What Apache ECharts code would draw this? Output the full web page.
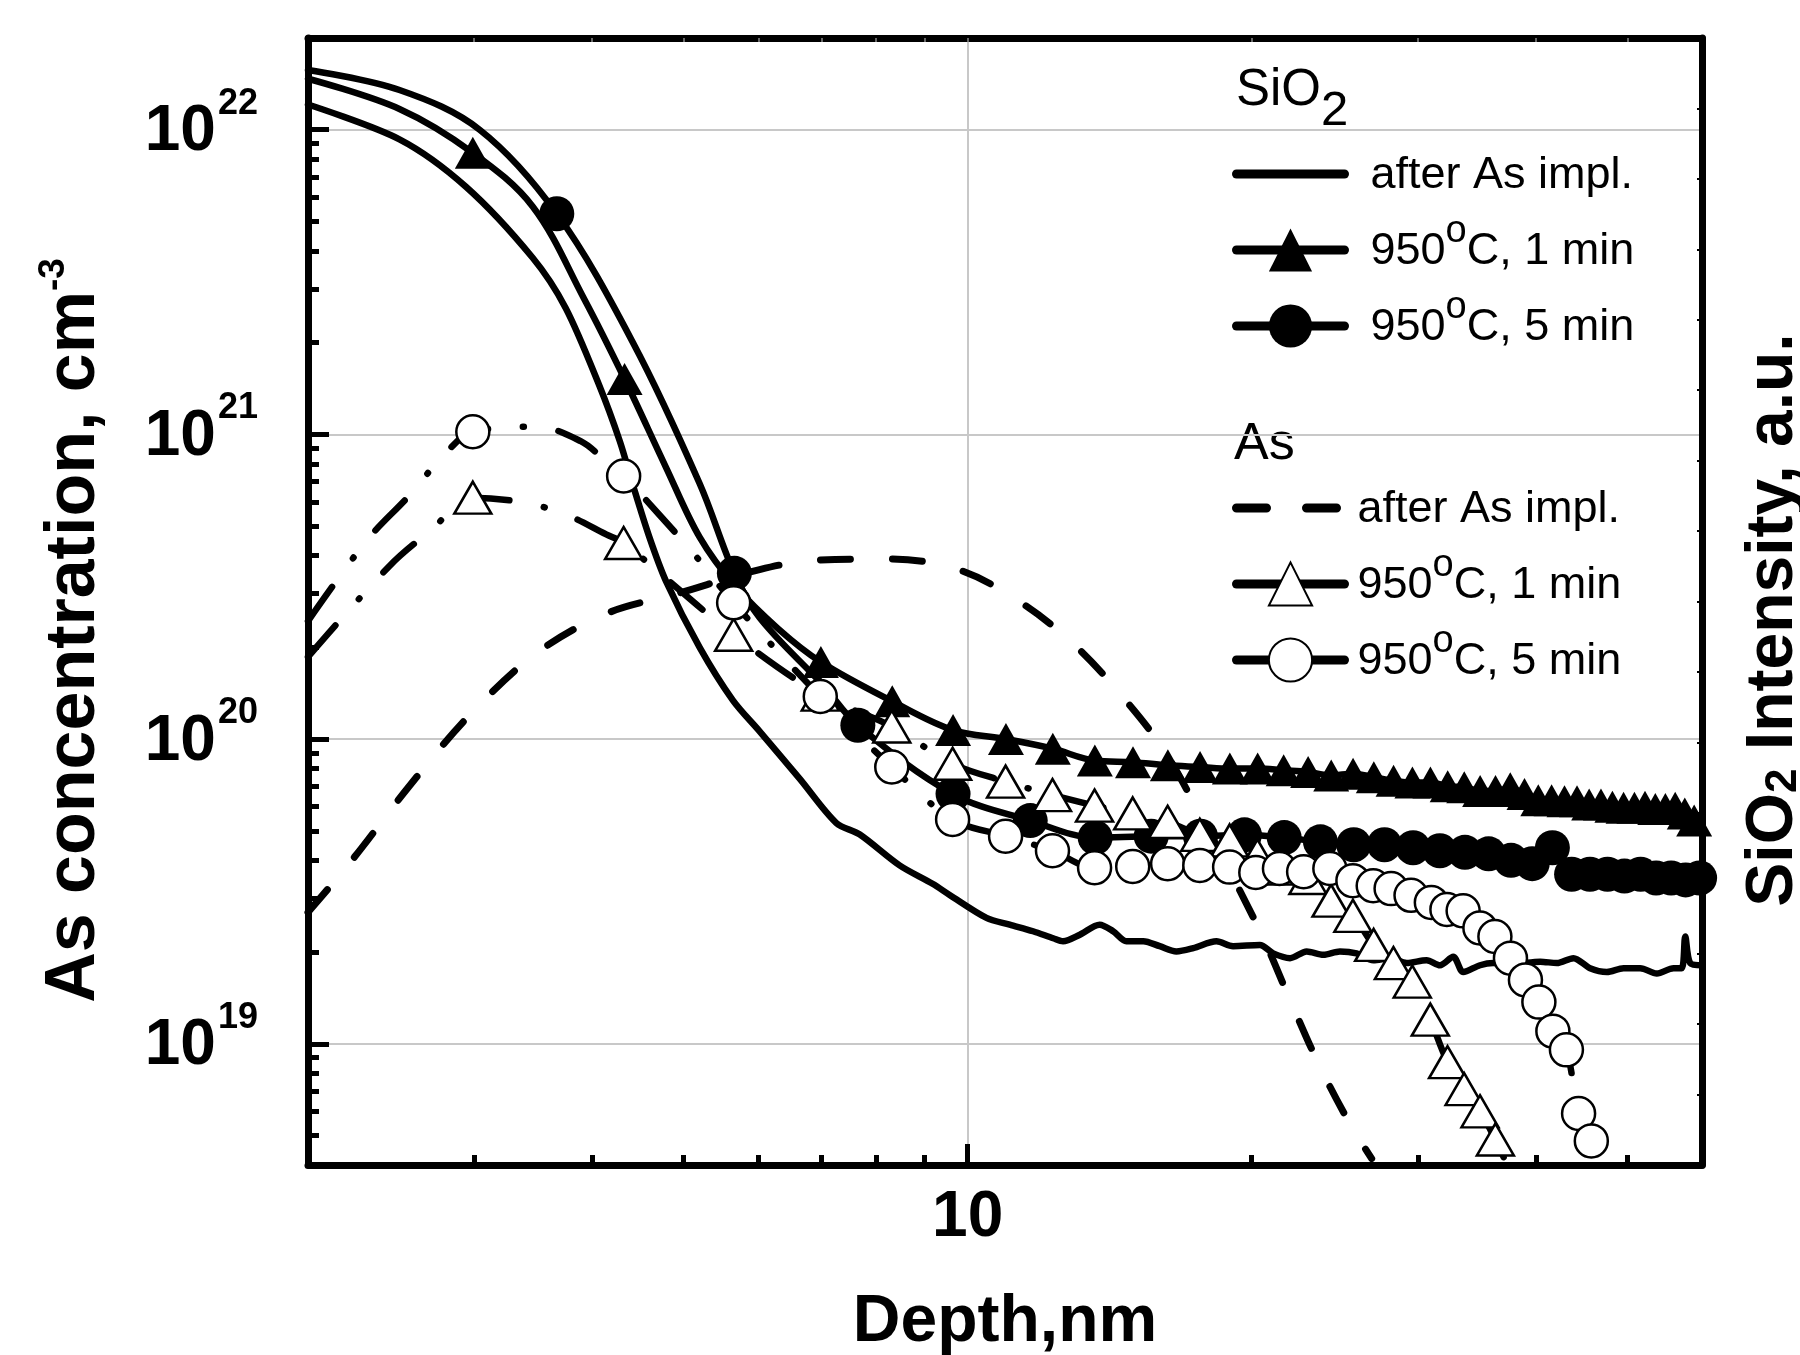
<!DOCTYPE html>
<html><head><meta charset="utf-8">
<script src="https://cdn.jsdelivr.net/npm/echarts@6/dist/echarts.min.js"></script>
<style>html,body{margin:0;padding:0;background:#fff}#c{width:1800px;height:1355px}</style>
</head><body><div id="c"></div>
<script>
// ---------- ticks ----------
const xMajorTicks = [10];
const xMinorTicks = [3, 4, 5, 6, 7, 8, 9, 20, 30, 40, 50];
const yMajorTicks = [1e19, 1e20, 1e21, 1e22];
const yMinorTicks = [5e18, 6e18, 7e18, 8e18, 9e18, 2e19, 3e19, 4e19, 5e19, 6e19, 7e19, 8e19, 9e19,
  2e20, 3e20, 4e20, 5e20, 6e20, 7e20, 8e20, 9e20, 2e21, 3e21, 4e21, 5e21, 6e21, 7e21, 8e21, 9e21];

// ---------- SiO2, after As implantation (solid line) ----------
const sio2ImplDepth = [2.0, 2.5, 2.94, 3.46, 3.75, 4.07, 4.28, 4.42, 4.6, 4.79, 5.2, 5.64, 6.02, 6.64, 7.26, 7.68, 8.47, 9.18, 9.57, 10.47,
  11.08, 11.73, 12.32, 12.62, 13.15, 13.80, 14.26, 14.73, 15.35, 15.98, 16.64, 17.34, 18.35, 19.11, 20.40, 21.08, 21.96, 22.87, 23.82, 24.80,
  25.83, 26.91, 28.03, 29.19, 30.64, 31.66, 32.70, 33.51, 34.91, 36.06, 37.26, 38.82, 40.43, 42.11, 43.85, 45.66, 47.57, 49.55, 51.6, 53.74,
  55.98, 57.1, 57.6, 58.3, 60.0];
const sio2ImplConc = [1.21e22, 9.3e21, 6.5e21, 3.8e21, 2.6e21, 1.45e21, 9.5e20, 6.8e20, 4.6e20, 3.3e20, 2.0e20, 1.34e20, 1.06e20, 7.4e19, 5.3e19, 4.87e19, 3.85e19, 3.35e19, 3.08e19, 2.59e19,
  2.46e19, 2.34e19, 2.22e19, 2.17e19, 2.28e19, 2.46e19, 2.34e19, 2.17e19, 2.17e19, 2.09e19, 2.01e19, 2.06e19, 2.17e19, 2.09e19, 2.11e19, 1.98e19, 1.91e19, 2.01e19, 1.96e19, 2.01e19,
  1.98e19, 1.88e19, 1.91e19, 1.84e19, 1.88e19, 1.81e19, 1.93e19, 1.72e19, 1.81e19, 1.84e19, 1.81e19, 1.84e19, 1.86e19, 1.84e19, 1.91e19, 1.77e19, 1.72e19, 1.77e19, 1.77e19, 1.70e19,
  1.77e19, 1.77e19, 2.25e19, 1.84e19, 1.81e19];

// ---------- SiO2, 950 C 1 min (filled triangles) ----------
const sio2Min1CurveDepth = [2.0, 2.5, 3.46, 3.92, 4.79, 5.2, 6.3, 60.0];
const sio2Min1CurveConc = [1.47e22, 1.17e22, 5.6e21, 2.8e21, 7.8e20, 4.6e20, 2.3e20, 5.0e19];
const sio2Min1MarkDepth = [2.99, 4.33, 5.66, 6.99, 8.32, 9.65, 10.98, 12.31, 13.64, 14.97, 16.3, 17.63, 18.96, 20.29, 21.62, 22.95, 24.28, 25.61, 26.94, 28.27,
  29.6, 30.93, 32.26, 33.59, 34.92, 36.25, 37.58, 38.91, 40.24, 41.57, 42.9, 44.23, 45.56, 46.89, 48.22, 49.55, 50.88, 52.21, 53.54, 54.87, 56.2, 57.53, 58.86];
const sio2Min1MarkConc = [8.4e21, 1.52e21, 3.2e20, 1.79e20, 1.33e20, 1.07e20, 1.0e20, 9.3e19, 8.5e19, 8.4e19, 8.2e19, 8.1e19, 8.0e19, 8.0e19, 7.9e19, 7.8e19, 7.6e19, 7.7e19, 7.5e19, 7.3e19,
  7.2e19, 7.2e19, 7.0e19, 6.95e19, 6.75e19, 6.75e19, 6.9e19, 6.6e19, 6.3e19, 6.3e19, 6.25e19, 6.25e19, 6.1e19, 6.1e19, 6.0e19, 5.95e19, 5.95e19, 6.0e19, 5.9e19, 5.9e19, 5.95e19, 5.7e19, 5.4e19];

// ---------- SiO2, 950 C 5 min (filled circles) ----------
const sio2Min5CurveDepth = [2.0, 2.5, 3.04, 4.42, 5.2, 6.02, 7.03];
const sio2Min5CurveConc = [1.57e22, 1.35e22, 1.0e22, 2.0e21, 6.9e20, 2.5e20, 1.5e20];
const sio2Min5MarkDepth = [3.67, 5.66, 7.65, 9.65, 11.65, 13.65, 15.65, 17.65, 19.65, 21.65, 23.65, 25.65, 27.65, 29.65, 31.65, 33.65, 35.65, 37.65, 39.65, 41.65,
  43.65, 45.65, 47.65, 49.65, 51.65, 53.65, 55.65, 57.65, 59.65];
const sio2Min5MarkConc = [5.3e21, 3.5e20, 1.11e20, 6.6e19, 5.4e19, 4.75e19, 4.8e19, 4.8e19, 4.85e19, 4.75e19, 4.6e19, 4.5e19, 4.5e19, 4.4e19, 4.3e19, 4.25e19, 4.2e19, 4.0e19, 3.9e19, 4.4e19,
  3.6e19, 3.6e19, 3.6e19, 3.55e19, 3.6e19, 3.5e19, 3.5e19, 3.45e19, 3.5e19];

// ---------- As, after As implantation (dashed) ----------
const asImplDepth = [2.0, 2.24, 2.56, 2.96, 3.49, 4.14, 4.92, 6.02, 6.94, 8.23, 9.77, 11.4, 13.06, 14.7, 16.1, 17.5, 20.4, 21.9, 23.5, 25.3, 26.8];
const asImplConc = [2.7e19, 4.1e19, 7.0e19, 1.19e20, 1.91e20, 2.58e20, 3.0e20, 3.6e20, 3.87e20, 3.9e20, 3.6e20, 2.8e20, 2.0e20, 1.34e20, 9.3e19, 5.9e19, 2.35e19, 1.42e19, 8.7e18, 5.6e18, 4.2e18];

// ---------- As, 950 C 1 min (open triangles) ----------
const asMin1CurveDepth = [2.0, 2.44, 2.70, 3.36, 3.73, 4.14, 4.72];
const asMin1CurveConc = [1.86e20, 3.7e20, 4.85e20, 6.0e20, 5.5e20, 4.7e20, 3.5e20];
const asMin1MarkDepth = [2.99, 4.32, 5.65, 6.98, 8.31, 9.64, 10.97, 12.3, 13.63, 14.96, 16.29, 17.62, 18.95, 20.28, 21.61, 22.94, 24.27, 25.6, 26.93, 28.26,
  29.59, 30.92, 32.25, 33.58, 34.91, 36.24, 37.57];
const asMin1MarkConc = [6.2e20, 4.4e20, 2.2e20, 1.4e20, 1.1e20, 8.3e19, 7.25e19, 6.55e19, 6.05e19, 5.7e19, 5.35e19, 4.85e19, 4.65e19, 4.15e19, 3.76e19, 3.5e19, 2.95e19, 2.63e19, 2.11e19, 1.84e19,
  1.6e19, 1.2e19, 8.7e18, 7.1e18, 6.0e18, 4.85e18, 3.8e18];

// ---------- As, 950 C 5 min (open circles) ----------
const asMin5CurveDepth = [2.0, 2.31, 2.56, 2.79, 3.49, 3.89, 4.13, 4.7, 5.13];
const asMin5CurveConc = [2.44e20, 4.5e20, 6.3e20, 8.6e20, 1.06e21, 9.5e20, 8.2e20, 5.5e20, 4.05e20];
const asMin5MarkDepth = [2.99, 4.32, 5.65, 6.98, 8.31, 9.64, 10.97, 12.3, 13.63, 14.96, 16.29, 17.62, 18.95, 20.2, 21.4, 22.7, 24.2, 25.6, 26.9, 28.1,
  29.5, 31.0, 32.2, 33.5, 34.9, 36.2, 37.6, 39.0, 40.3, 41.7, 43.1, 44.4, 45.8];
const asMin5MarkConc = [1.02e21, 7.3e20, 2.8e20, 1.38e20, 8.1e19, 5.45e19, 4.8e19, 4.3e19, 3.78e19, 3.82e19, 3.9e19, 3.85e19, 3.8e19, 3.65e19, 3.76e19, 3.67e19, 3.76e19, 3.43e19, 3.3e19, 3.23e19,
  3.07e19, 2.91e19, 2.76e19, 2.73e19, 2.4e19, 2.25e19, 1.91e19, 1.62e19, 1.37e19, 1.1e19, 9.55e18, 5.9e18, 4.8e18];

// ---------- legend texts ----------
const legendText = {
  sio2Impl: ['after As impl.'],
  sio2Min1: ['950', 'C, 1 min'],
  sio2Min5: ['950', 'C, 5 min'],
  asImpl: ['after As impl.'],
  asMin1: ['950', 'C, 1 min'],
  asMin5: ['950', 'C, 5 min']
};

const FONT = '"Liberation Sans", Arial, Helvetica, sans-serif';

function pairs(xs, ys) { return xs.map((x, i) => [x, ys[i]]); }
function merged(cx, cy, mx, my) {
  const pts = pairs(cx, cy).map(p => ({ value: p, symbol: 'none' }))
    .concat(pairs(mx, my).map(p => ({ value: p })));
  pts.sort((a, b) => a.value[0] - b.value[0]);
  return pts;
}

const base = { type: 'line', xAxisIndex: 0, yAxisIndex: 0, smooth: 0.35, clip: true, showAllSymbol: true,
  animation: false, silent: true, emphasis: { disabled: true } };
const solidLine = { color: '#000', width: 6.5, cap: 'round', join: 'round' };
const dashDot = { color: '#000', width: 6.5, cap: 'round', join: 'round', type: [42, 35, 1, 35] };
const openItem = { color: '#fff', borderColor: '#000', borderWidth: 2.5 };

const series = [
  Object.assign({}, base, { name: 'sio2Impl', data: pairs(sio2ImplDepth, sio2ImplConc), symbol: 'none', showSymbol: false,
    smooth: 0.3, lineStyle: solidLine, itemStyle: { color: '#000' } }),
  Object.assign({}, base, { name: 'sio2Min1', data: merged(sio2Min1CurveDepth, sio2Min1CurveConc, sio2Min1MarkDepth, sio2Min1MarkConc),
    symbol: 'triangle', symbolSize: [36, 32], lineStyle: solidLine, itemStyle: { color: '#000' } }),
  Object.assign({}, base, { name: 'sio2Min5', data: merged(sio2Min5CurveDepth, sio2Min5CurveConc, sio2Min5MarkDepth, sio2Min5MarkConc),
    symbol: 'circle', symbolSize: 35, lineStyle: solidLine, itemStyle: { color: '#000' } }),
  Object.assign({}, base, { name: 'asImpl', data: pairs(asImplDepth, asImplConc), symbol: 'none', showSymbol: false,
    lineStyle: { color: '#000', width: 7, cap: 'round', join: 'round', type: [30, 42] }, itemStyle: { color: '#000' } }),
  Object.assign({}, base, { name: 'asMin1', data: merged(asMin1CurveDepth, asMin1CurveConc, asMin1MarkDepth, asMin1MarkConc),
    symbol: 'triangle', symbolSize: [37, 32], lineStyle: dashDot, itemStyle: openItem }),
  Object.assign({}, base, { name: 'asMin5', data: merged(asMin5CurveDepth, asMin5CurveConc, asMin5MarkDepth, asMin5MarkConc),
    symbol: 'circle', symbolSize: 33, lineStyle: dashDot, itemStyle: openItem })
];

function legendFormatter(name) {
  const t = legendText[name];
  if (t.length === 1) return '{t|' + t[0] + '}{o| }';
  return '{t|' + t[0] + '}{o|o}{t|' + t[1] + '}';
}
const legendRich = {
  t: { fontFamily: FONT, fontSize: 45, lineHeight: 45, verticalAlign: 'bottom', color: '#000' },
  o: { fontFamily: FONT, fontSize: 38, lineHeight: 61, verticalAlign: 'top', padding: [0, 0, 23, 0], color: '#000' }
};
const legendCommon = { orient: 'vertical', left: 1232, itemWidth: 108, itemHeight: 54, itemGap: 15, padding: 0,
  selectedMode: false, formatter: legendFormatter, lineStyle: { width: 9 } };

const axisBlack = { color: '#000', width: 7 };

const option = {
  animation: false,
  backgroundColor: '#fff',
  grid: { left: 308, right: 98, top: 38, bottom: 190, containLabel: false, outerBoundsMode: 'none' },
  xAxis: [
    { type: 'log', logBase: 10, min: 2, max: 60, position: 'bottom', gridIndex: 0,
      axisLine: { show: true, onZero: false, lineStyle: axisBlack },
      axisTick: { show: true, inside: true, length: 21, lineStyle: { color: '#000', width: 5 }, customValues: xMajorTicks },
      axisLabel: { show: true, customValues: xMajorTicks, margin: 21, formatter: v => String(Math.round(v)),
        fontFamily: FONT, fontSize: 64, fontWeight: 'bold', color: '#000' },
      splitLine: { show: true, lineStyle: { color: '#c8c8c8', width: 2 } },
      minorTick: { show: false }, minorSplitLine: { show: false },
      name: 'Depth,nm', nameLocation: 'middle', nameGap: 125, nameMoveOverlap: false,
      nameTextStyle: { fontFamily: FONT, fontSize: 66, fontWeight: 'bold', color: '#000' } },
    { type: 'log', logBase: 10, min: 2, max: 60, position: 'bottom', gridIndex: 0,
      axisLine: { show: false },
      axisTick: { show: true, inside: true, length: 10, lineStyle: { color: '#000', width: 5 }, customValues: xMinorTicks },
      axisLabel: { show: false }, splitLine: { show: false } },
    { type: 'log', logBase: 10, min: 2, max: 60, position: 'top', gridIndex: 0,
      axisLine: { show: true, onZero: false, lineStyle: axisBlack },
      axisTick: { show: true, inside: true, length: 4, lineStyle: { color: '#666', width: 2 }, customValues: xMinorTicks.concat(xMajorTicks) },
      axisLabel: { show: false }, splitLine: { show: false } }
  ],
  yAxis: [
    { type: 'log', logBase: 10, min: 4e18, max: 2e22, position: 'left', gridIndex: 0,
      axisLine: { show: true, onZero: false, lineStyle: axisBlack },
      axisTick: { show: true, inside: true, length: 21, lineStyle: { color: '#000', width: 5 }, customValues: yMajorTicks },
      axisLabel: { show: true, customValues: yMajorTicks, margin: 50, padding: [0, 0, 9, 0],
        formatter: v => '{b|10}{s|' + Math.round(Math.log10(v)) + '}',
        rich: {
          b: { fontFamily: FONT, fontSize: 64, lineHeight: 64, fontWeight: 'bold', color: '#000', verticalAlign: 'bottom' },
          s: { fontFamily: FONT, fontSize: 36, lineHeight: 79, fontWeight: 'bold', color: '#000', verticalAlign: 'top', padding: [0, 0, 43, 2] }
        } },
      splitLine: { show: true, lineStyle: { color: '#c8c8c8', width: 2 } },
      name: '{t|As concentration, cm}{p|-3}', nameLocation: 'middle', nameGap: 198, nameMoveOverlap: false,
      nameTextStyle: { padding: [0, 58, 0, 0], rich: {
        t: { fontFamily: FONT, fontSize: 70, lineHeight: 70, fontWeight: 'bold', color: '#000', verticalAlign: 'bottom' },
        p: { fontFamily: FONT, fontSize: 37, lineHeight: 75, fontWeight: 'bold', color: '#000', verticalAlign: 'top', padding: [0, 0, 38, 0] }
      } } },
    { type: 'log', logBase: 10, min: 4e18, max: 2e22, position: 'left', gridIndex: 0,
      axisLine: { show: false },
      axisTick: { show: true, inside: true, length: 11, lineStyle: { color: '#000', width: 5 }, customValues: yMinorTicks },
      axisLabel: { show: false }, splitLine: { show: false } },
    { type: 'value', min: 0, max: 16, interval: 1, position: 'right', gridIndex: 0,
      axisLine: { show: true, onZero: false, lineStyle: axisBlack },
      axisTick: { show: true, inside: true, length: 5, lineStyle: { color: '#000', width: 2 } },
      axisLabel: { show: false }, splitLine: { show: false },
      name: '{a|SiO}{b|2}{a| Intensity, a.u.}', nameLocation: 'middle', nameGap: 39, nameMoveOverlap: false,
      nameTextStyle: { padding: [0, 37, 0, 0], rich: {
        a: { fontFamily: FONT, fontSize: 66, lineHeight: 66, fontWeight: 'bold', color: '#000', verticalAlign: 'top' },
        b: { fontFamily: FONT, fontSize: 44, lineHeight: 44, fontWeight: 'bold', color: '#000', verticalAlign: 'top', padding: [21, 0, 0, 0] }
      } } }
  ],
  legend: [
    Object.assign({}, legendCommon, { top: 137,
      textStyle: { fontFamily: FONT, fontSize: 45, color: '#000', padding: [0, 0, 13, 21], rich: legendRich },
      data: [{ name: 'sio2Impl', itemStyle: { opacity: 0 } }, { name: 'sio2Min1' }, { name: 'sio2Min5' }] }),
    Object.assign({}, legendCommon, { top: 471,
      textStyle: { fontFamily: FONT, fontSize: 45, color: '#000', padding: [0, 0, 13, 8], rich: legendRich },
      data: [{ name: 'asImpl', itemStyle: { opacity: 0 }, lineStyle: { type: [30, 40] } },
             { name: 'asMin1', lineStyle: { type: 'solid' } }, { name: 'asMin5', lineStyle: { type: 'solid' } }] })
  ],
  graphic: [
    { type: 'text', left: 1236, top: 65, silent: true,
      style: { text: '{a|SiO}{b|2}', rich: {
        a: { fontFamily: FONT, fontSize: 51, lineHeight: 51, verticalAlign: 'top', fill: '#000' },
        b: { fontFamily: FONT, fontSize: 49, lineHeight: 49, verticalAlign: 'top', padding: [22, 0, 0, 0], fill: '#000' } } } },
    { type: 'text', left: 1234, top: 419, silent: true,
      style: { text: 'As', fontFamily: FONT, fontSize: 52, fill: '#000' } }
  ],
  series: series
};

const chart = echarts.init(document.getElementById('c'), null, { renderer: 'canvas' });
chart.setOption(option);
</script>
</body></html>
